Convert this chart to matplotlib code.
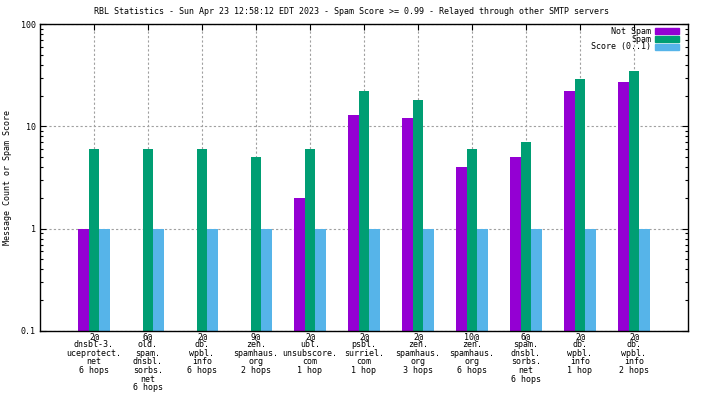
import numpy as np
import matplotlib.pyplot as plt
from matplotlib.patches import Rectangle
from matplotlib.ticker import LogLocator, NullFormatter

# Data
labels = [
    "2@\ndnsbl-3.\nuceprotect.\nnet\n6 hops",
    "6@\nold.\nspam.\ndnsbl.\nsorbs.\nnet\n6 hops",
    "2@\ndb.\nwpbl.\ninfo\n6 hops",
    "9@\nzen.\nspamhaus.\norg\n2 hops",
    "2@\nubl.\nunsubscore.\ncom\n1 hop",
    "2@\npsbl.\nsurriel.\ncom\n1 hop",
    "2@\nzen.\nspamhaus.\norg\n3 hops",
    "10@\nzen.\nspamhaus.\norg\n6 hops",
    "6@\nspam.\ndnsbl.\nsorbs.\nnet\n6 hops",
    "2@\ndb.\nwpbl.\ninfo\n1 hop",
    "2@\ndb.\nwpbl.\ninfo\n2 hops",
]
not_spam = [1, np.nan, np.nan, np.nan, 2, 13, 12, 4, 5, 22, 27]
spam = [6, 6, 6, 5, 6, 22, 18, 6, 7, 29, 35]
score = [1, 1, 1, 1, 1, 1, 1, 1, 1, 1, 1]

series = [("Not Spam", not_spam, "#9400D3"),
          ("Spam", spam, "#009E73"),
          ("Score (0..1)", score, "#56B4E9")]

plt.rcParams['font.family'] = "DejaVu Sans Mono"
plt.rcParams['font.size'] = 6

fig = plt.figure(figsize=(7.04, 3.96), dpi=100)
ax = fig.add_axes([40 / 704, 1 - 331 / 396, 648 / 704, 307 / 396])
ax.set_yscale('log')

x = np.arange(len(labels))
w = 0.2
for i, (name, vals, col) in enumerate(series):
    ax.bar(x + (i - 1) * w, vals, width=w, color=col, zorder=3)

ax.set_ylim(0.1, 100)
ax.set_xlim(-1, len(labels))
ax.set_xticks(x)
ax.set_xticklabels(labels, linespacing=0.94, va='top')
ax.set_yticks([0.1, 1, 10, 100])
ax.set_yticklabels(["0.1", "1", "10", "100"])
ax.yaxis.set_minor_locator(LogLocator(base=10, subs=np.arange(2, 10)))
ax.yaxis.set_minor_formatter(NullFormatter())

ax.tick_params(which='both', direction='in', top=True, right=True, width=0.8)
ax.tick_params(which='major', length=4.5, pad=3)
ax.tick_params(axis='x', which='minor', bottom=False, top=False)
ax.tick_params(which='minor', length=2.2)
ax.tick_params(axis='x', pad=0.5)

ax.grid(True, which='major', color='#a0a0a0', linestyle=(0, (2, 2)), linewidth=0.8, zorder=0)
for s in ax.spines.values():
    s.set_linewidth(1.0)
    s.set_zorder(4)

ax.set_ylabel("Message Count or Spam Score")
ax.yaxis.set_label_coords(-0.043, 0.5)
fig.text(0.5, 1 - 12 / 396, "RBL Statistics - Sun Apr 23 12:58:12 EDT 2023 - Spam Score >= 0.99 - Relayed through other SMTP servers",
         ha='center', va='center')

# legend, gnuplot style: right-aligned text then a colour swatch
for i, (name, vals, col) in enumerate(series):
    yc = 1 - (7 + 8 * i) / 307
    ax.text(1 - 37 / 648, yc, name, transform=ax.transAxes, ha='right', va='center', zorder=5)
    ax.add_patch(Rectangle((1 - 33 / 648, yc - 3 / 307), 24 / 648, 6 / 307,
                           transform=ax.transAxes, color=col, zorder=5, clip_on=False))

fig.savefig("out.png", dpi=100)
